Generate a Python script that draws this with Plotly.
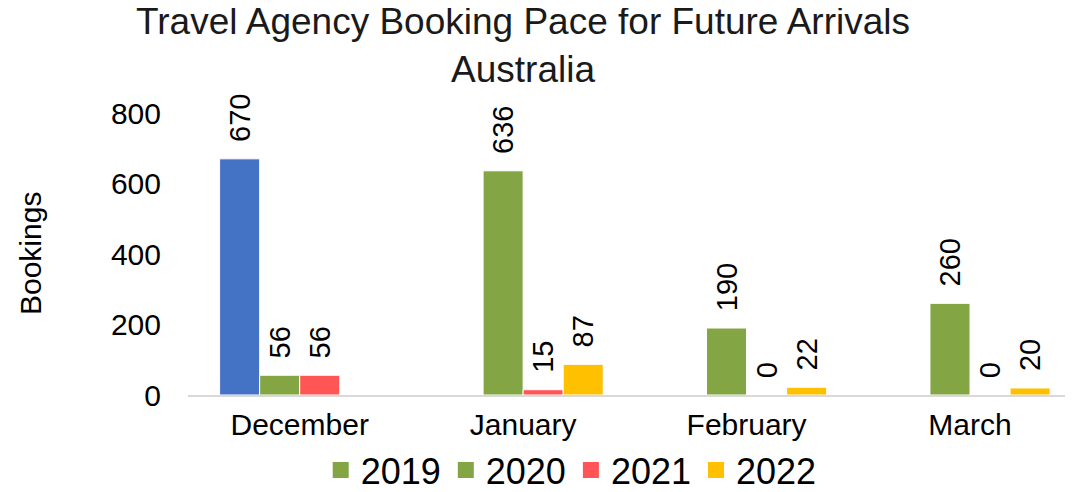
import plotly.graph_objects as go

months = ["December", "January", "February", "March"]
series_names = ["2019", "2020", "2021", "2022"]
v2019 = [670, None, None, None]
v2020 = [56, 636, 190, 260]
v2021 = [56, 15, 0, 0]
v2022 = [None, 87, 22, 20]
values = [v2019, v2020, v2021, v2022]
colors_bar = [["#4472C4", "#84A544", "#84A544", "#84A544"], "#84A544", "#FF5555", "#FFC000"]
colors_legend = ["#84A544", "#84A544", "#FF5555", "#FFC000"]
y_ticks = [0, 200, 400, 600, 800]

FONT = "Liberation Sans, Arial, sans-serif"
PAD = "\u00a0\u2009"

fig = go.Figure()
for name, vals, col in zip(series_names, values, colors_bar):
    fig.add_trace(go.Bar(
        x=months, y=vals, name=name,
        marker=dict(color=col, line=dict(color="white", width=1)),
        text=[("" if v is None else PAD + str(v)) for v in vals],
        textposition="outside", textangle=-90, cliponaxis=False,
        constraintext="none",
        outsidetextfont=dict(family=FONT, size=29, color="black"),
        showlegend=False, hoverinfo="x+y+name",
    ))

for name, col in zip(series_names, colors_legend):
    fig.add_trace(go.Scatter(
        x=[None], y=[None], mode="markers", name=name,
        marker=dict(symbol="square", size=19, color=col),
        showlegend=True,
    ))

fig.update_layout(
    width=1065, height=484,
    margin=dict(l=180, r=0, t=105, b=97, pad=0, autoexpand=False),
    paper_bgcolor="white", plot_bgcolor="white",
    barmode="group", bargap=0.283, bargroupgap=0,
    font=dict(family=FONT, color="black"),
    title=dict(
        text="Travel Agency Booking Pace for Future Arrivals<br>Australia",
        font=dict(family=FONT, size=37, color="#1a1a1a"),
        x=0.4836, xanchor="center", xref="container",
        y=0.947, yanchor="top", yref="container",
    ),
    xaxis=dict(
        range=[-0.5, 3.461], showline=True, linecolor="#D9D9D9", linewidth=2,
        showgrid=False, ticks="", tickfont=dict(family=FONT, size=30, color="black"),
        ticklabelstandoff=2, zeroline=False,
    ),
    yaxis=dict(
        range=[0, 800], tickvals=y_ticks, showgrid=False, showline=False,
        zeroline=False, ticks="", ticklabelstandoff=26,
        tickfont=dict(family=FONT, size=30, color="black"),
    ),
    legend=dict(
        orientation="h", x=0.433, xanchor="center", y=-0.266, yanchor="middle",
        font=dict(family=FONT, size=36, color="black"),
        bgcolor="rgba(0,0,0,0)", itemclick=False,
    ),
    annotations=[dict(
        text="Bookings", textangle=-90, xref="paper", yref="paper",
        x=-0.1785, y=0.5, xanchor="center", yanchor="middle", showarrow=False,
        font=dict(family=FONT, size=30, color="black"),
    )],
)

fig.write_html("out.html")
